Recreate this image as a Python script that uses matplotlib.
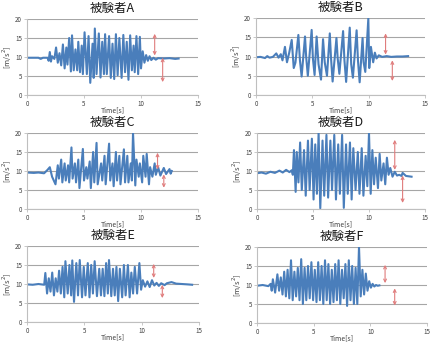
import matplotlib
matplotlib.use('Agg')
import matplotlib.pyplot as plt
import numpy as np

plt.rcParams['font.family'] = ['Noto Sans CJK JP', 'DejaVu Sans']

subjects = ['被験者A', '被験者B', '被験者C', '被験者D', '被験者E', '被験者F']

# waveform samples: (time, value) in order
t_A = [0, 0.5, 1.0, 1.2, 1.4, 1.8, 1.9, 2.0, 2.1, 2.2, 2.4, 2.55, 2.7, 2.85, 3.0, 3.15, 3.3, 3.45, 3.55, 3.7,
       3.85, 3.95, 4.1, 4.25, 4.4, 4.5, 4.65, 4.8, 4.9, 5.05, 5.25, 5.4, 5.55, 5.75, 5.85, 5.95, 6.1, 6.3, 6.45,
       6.6, 6.75, 6.85, 7.0, 7.2, 7.35, 7.5, 7.65, 7.8, 7.95, 8.1, 8.3, 8.45, 8.6, 8.75, 8.9, 9.05, 9.2, 9.35,
       9.45, 9.6, 9.75, 9.9, 10.0, 10.15, 10.3, 10.45, 10.6, 10.75, 10.9, 11.1, 11.3, 11.5, 12.0, 12.5, 13.0, 13.3]
v_A = [9.8, 9.8, 9.8, 9.5, 9.8, 9.8, 9.0, 11.3, 8.8, 10.2, 9.5, 12.5, 8.5, 11.0, 7.8, 13.3, 7.0, 12.5, 8.0, 15.0,
       6.2, 15.7, 6.5, 12.0, 6.5, 14.0, 6.0, 13.0, 5.5, 16.5, 5.5, 15.5, 3.2, 13.5, 4.5, 17.5, 5.5, 16.2, 4.6,
       14.0, 5.5, 16.0, 5.5, 15.5, 4.5, 13.5, 4.2, 16.0, 5.2, 15.0, 4.5, 15.8, 6.0, 14.0, 4.0, 15.7, 6.5, 13.0,
       6.0, 15.5, 5.5, 15.3, 7.0, 11.5, 8.5, 10.5, 9.0, 10.2, 9.2, 9.8, 9.3, 9.7, 9.6, 9.7, 9.5, 9.6]

t_B = [0, 0.4, 0.8, 1.0, 1.2, 1.5, 1.8, 2.0, 2.2, 2.35, 2.57, 2.75, 2.95, 3.17, 3.35, 3.5, 3.76, 3.9, 4.05, 4.35,
       4.45, 4.6, 4.94, 5.05, 5.2, 5.38, 5.55, 5.77, 5.95, 6.1, 6.3, 6.55, 6.65, 6.8, 7.14, 7.25, 7.4, 7.73, 7.85,
       8.0, 8.32, 8.45, 8.6, 8.93, 9.05, 9.2, 9.46, 9.55, 9.7, 9.97, 10.05, 10.2, 10.4, 10.55, 10.7, 10.9, 11.2,
       11.6, 12.0, 12.5, 13.0, 13.5]
v_B = [9.8, 9.9, 9.6, 10.1, 9.7, 9.9, 10.8, 9.7, 10.6, 9.0, 12.5, 8.5, 11.0, 14.3, 7.0, 8.4, 15.6, 9.0, 4.8, 15.2,
       10.0, 5.0, 16.9, 9.5, 5.2, 15.2, 8.0, 4.0, 14.5, 8.5, 5.0, 16.0, 10.0, 3.5, 14.8, 9.5, 5.5, 16.6, 9.0,
       3.4, 17.5, 8.0, 4.5, 16.8, 9.0, 3.3, 14.8, 8.5, 6.0, 19.9, 7.0, 12.5, 8.5, 11.0, 9.5, 10.3, 9.9,
       10.1, 9.9, 10.0, 10.0, 10.1]

t_C = [0, 0.6, 1.0, 1.5, 1.8, 2.0, 2.2, 2.5, 2.7, 2.8, 3.0, 3.1, 3.3, 3.4, 3.6, 3.7, 3.9, 4.0, 4.2, 4.3, 4.5,
       4.6, 4.9, 5.0, 5.2, 5.3, 5.5, 5.6, 5.8, 5.9, 6.1, 6.2, 6.5, 6.6, 6.8, 6.9, 7.2, 7.3, 7.5, 7.6, 7.8,
       7.9, 8.1, 8.2, 8.5, 8.6, 8.8, 8.9, 9.1, 9.2, 9.3, 9.5, 9.6, 9.8, 9.9, 10.1, 10.2, 10.4, 10.5, 10.7,
       10.8, 11.0, 11.2, 11.3, 11.5, 11.7, 12.0, 12.2, 12.5, 12.6, 12.7]
v_C = [9.6, 9.5, 9.6, 9.4, 10.3, 11.0, 8.5, 6.5, 11.5, 8.0, 13.0, 7.0, 12.0, 7.5, 11.5, 7.0, 16.2, 8.0, 12.0,
       7.0, 13.0, 5.5, 15.8, 7.5, 11.0, 8.0, 12.5, 5.5, 15.0, 7.0, 17.4, 6.5, 12.0, 7.5, 14.0, 6.5, 17.2, 7.5,
       12.0, 6.0, 15.0, 7.5, 14.0, 6.5, 15.7, 7.0, 14.0, 7.0, 12.0, 7.5, 20.0, 6.2, 13.0, 8.5, 12.0, 7.0, 14.0,
       8.5, 14.5, 6.5, 11.0, 8.5, 12.0, 9.0, 11.0, 8.8, 10.8, 9.2, 10.5, 9.3, 10.0]

t_D = [0, 0.4, 0.8, 1.2, 1.6, 2.0, 2.3, 2.6, 2.9, 3.1, 3.2, 3.3, 3.45, 3.55, 3.7, 3.85, 4.0, 4.2, 4.35, 4.55,
       4.7, 4.9, 5.05, 5.2, 5.35, 5.5, 5.65, 5.85, 6.0, 6.2, 6.35, 6.55, 6.7, 6.9, 7.05, 7.25, 7.4, 7.6, 7.75,
       7.95, 8.1, 8.3, 8.45, 8.6, 8.8, 9.0, 9.15, 9.35, 9.5, 9.7, 9.85, 10.0, 10.15, 10.3, 10.45, 10.6, 10.8,
       10.95, 11.1, 11.3, 11.45, 11.6, 11.75, 11.9, 12.1, 12.3, 12.5, 12.7, 12.9, 13.0, 13.3, 13.8]
v_D = [9.4, 9.6, 9.3, 9.8, 9.5, 10.1, 9.6, 10.3, 9.7, 10.2, 9.0, 15.5, 4.5, 15.0, 7.0, 17.5, 5.0, 15.5, 3.5,
       18.0, 5.0, 18.5, 2.5, 17.0, 4.0, 20.0, 0.2, 18.0, 3.5, 19.5, 3.0, 18.0, 5.0, 19.5, 2.5, 17.0, 4.0, 19.5,
       0.3, 17.0, 4.0, 17.5, 2.5, 16.0, 5.0, 15.0, 4.0, 16.0, 3.5, 14.0, 6.0, 20.0, 4.0, 15.5, 6.5, 13.5, 5.5,
       14.5, 7.5, 12.0, 6.5, 13.5, 9.0, 10.8, 8.5, 9.8, 8.8, 9.0, 8.7, 9.5, 8.7, 8.5]

t_E = [0, 0.5, 1.0, 1.5, 1.6, 1.75, 1.9, 2.05, 2.2, 2.35, 2.5, 2.65, 2.8, 2.95, 3.1, 3.25, 3.35, 3.55, 3.7,
       3.85, 3.95, 4.1, 4.3, 4.45, 4.6, 4.8, 4.95, 5.1, 5.3, 5.45, 5.6, 5.75, 5.9, 6.1, 6.3, 6.45, 6.6, 6.75,
       6.9, 7.05, 7.15, 7.35, 7.5, 7.65, 7.8, 7.95, 8.1, 8.3, 8.45, 8.6, 8.8, 8.95, 9.1, 9.25, 9.4, 9.6, 9.8,
       9.95, 10.1, 10.3, 10.5, 10.7, 10.9, 11.1, 11.3, 11.5, 11.7, 12.0, 12.2, 12.6, 13.0, 13.5, 14.0, 14.4]
v_E = [9.9, 9.8, 10.0, 9.8, 12.9, 7.5, 11.5, 8.0, 13.0, 7.0, 11.5, 8.0, 13.5, 7.5, 14.5, 6.5, 16.0, 7.5, 15.0,
       7.0, 16.2, 5.3, 15.5, 7.0, 16.3, 6.5, 14.5, 7.0, 15.5, 6.5, 15.0, 7.5, 16.0, 6.8, 14.0, 7.0, 14.0, 6.8,
       15.5, 7.5, 16.3, 6.8, 14.0, 7.0, 14.5, 5.5, 14.0, 6.5, 15.0, 7.0, 15.0, 6.5, 13.0, 7.5, 14.5, 7.5, 15.5,
       8.5, 11.0, 9.3, 10.7, 9.2, 11.0, 9.6, 10.3, 9.5, 10.2, 9.7, 10.2, 10.5, 10.1, 10.0, 9.9, 9.8]

t_F = [0, 0.5, 1.0, 1.2, 1.3, 1.4, 1.6, 1.8, 1.95, 2.1, 2.25, 2.4, 2.55, 2.7, 2.85, 3.0, 3.15, 3.3, 3.45, 3.6,
       3.75, 3.9, 4.05, 4.2, 4.35, 4.5, 4.65, 4.8, 4.95, 5.1, 5.25, 5.4, 5.55, 5.7, 5.85, 6.0, 6.15, 6.3, 6.45,
       6.6, 6.75, 6.9, 7.05, 7.2, 7.35, 7.5, 7.65, 7.8, 7.95, 8.1, 8.25, 8.4, 8.55, 8.7, 8.85, 9.0, 9.15, 9.3,
       9.45, 9.6, 9.75, 9.9, 10.05, 10.2, 10.35, 10.5, 10.65, 10.8]
v_F = [9.8, 10.0, 9.7, 10.3, 8.5, 11.5, 8.0, 12.8, 8.5, 12.0, 7.5, 13.5, 7.0, 14.0, 6.5, 16.5, 6.0, 13.5, 7.0,
       14.5, 6.0, 16.8, 5.0, 14.5, 6.0, 15.0, 6.5, 16.0, 6.0, 14.0, 5.5, 16.0, 6.0, 15.0, 5.0, 16.5, 6.0, 15.5,
       5.0, 14.0, 5.5, 15.5, 6.0, 16.5, 5.0, 14.0, 6.5, 15.5, 4.5, 16.5, 6.0, 15.0, 5.0, 14.5, 5.0, 20.0, 7.0,
       14.0, 7.5, 13.0, 8.5, 11.0, 9.3, 10.3, 9.6, 10.0, 9.8, 9.9]

series_t = [t_A, t_B, t_C, t_D, t_E, t_F]
series_v = [v_A, v_B, v_C, v_D, v_E, v_F]

# red double arrows: (t, top, bottom) upper and lower
arrows_up = [(11.2, 16.1, 10.4), (11.5, 16.0, 10.5), (11.45, 14.8, 10.4),
             (12.3, 18.2, 10.3), (11.05, 15.3, 11.6), (11.3, 15.3, 10.5)]
arrows_dn = [(11.9, 9.8, 3.4), (12.1, 9.0, 3.65), (12.0, 9.1, 5.6),
             (13.0, 8.8, 1.6), (11.8, 9.8, 6.3), (12.15, 9.1, 4.6)]

# axes boxes in pixels: left, top, right, bottom
boxes = [(27, 19, 198, 95), (256, 18, 425, 95),
         (27, 133, 198, 209), (257, 133, 425, 209),
         (27, 246, 199, 322), (257, 247, 427, 323)]

W, H = 432, 342
fig = plt.figure(figsize=(W / 100, H / 100), dpi=100)
fig.patch.set_facecolor('white')

for i in range(6):
    l, t, r, b = boxes[i]
    ax = fig.add_axes([l / W, 1 - b / H, (r - l) / W, (b - t) / H])
    ax.plot(series_t[i], series_v[i], color='#4a7ebb', lw=1.5, solid_joinstyle='round')
    ax.set_xlim(0, 15)
    ax.set_ylim(0, 20)
    ax.set_xticks([0, 5, 10, 15])
    ax.set_yticks([0, 5, 10, 15, 20])
    ax.grid(axis='y', color='#a6a6a6', lw=0.8)
    ax.set_axisbelow(True)
    for s in ['top', 'right']:
        ax.spines[s].set_visible(False)
    for s in ['left', 'bottom']:
        ax.spines[s].set_color('#bfbfbf')
        ax.spines[s].set_linewidth(0.8)
    ax.tick_params(labelsize=4.5, colors='#bfbfbf', labelcolor='#404040', length=2, width=0.6, pad=1.5)
    ax.set_title(subjects[i], fontsize=9, pad=5, color='#1a1a1a')
    ax.set_xlabel('Time[s]', fontsize=5, labelpad=-1, color='#404040')
    ax.set_ylabel('[m/s$^2$]', fontsize=5.5, labelpad=1, color='#404040')

    for (x, y1, y2) in (arrows_up[i], arrows_dn[i]):
        ax.annotate('', xy=(x, y1), xytext=(x, y2),
                    arrowprops=dict(arrowstyle='<->', color='#e07c7c', lw=0.8,
                                    shrinkA=0, shrinkB=0, mutation_scale=5))

fig.savefig('out.png', dpi=100)
